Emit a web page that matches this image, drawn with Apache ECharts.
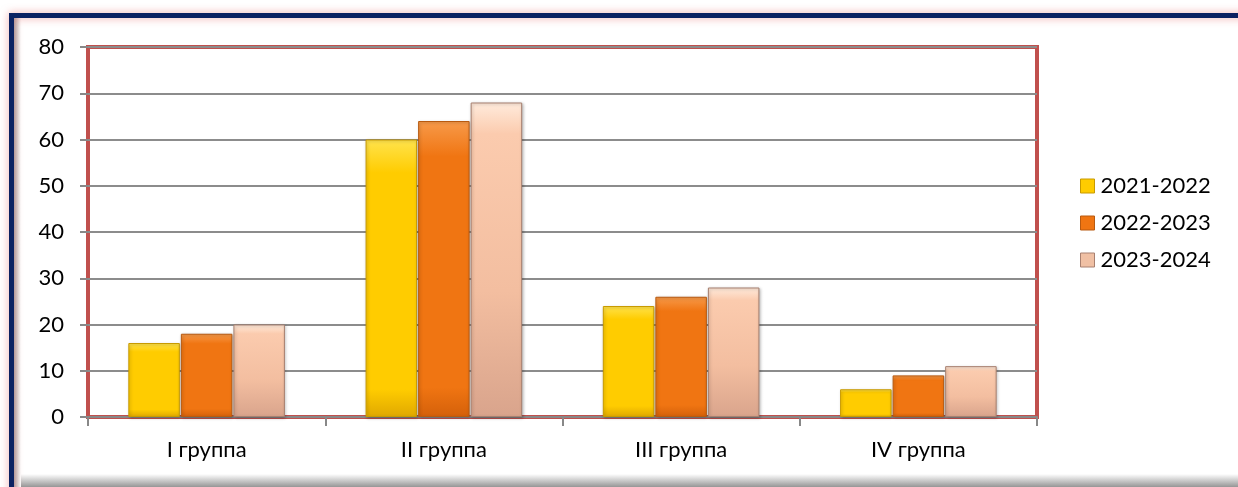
<!DOCTYPE html>
<html>
<head>
<meta charset="utf-8">
<script src="https://cdn.jsdelivr.net/npm/echarts@6/dist/echarts.min.js"></script>
<style>
	html, body { margin: 0; padding: 0; background: #fff; }
	#chart { width: 1238px; height: 487px; }
</style>
</head>
<body>
<div id="chart"></div>
<script>
// категории и значения по учебным годам
var categories = ['I группа', 'II группа', 'III группа', 'IV группа']
var seriesNames = ['2021-2022', '2022-2023', '2023-2024']
var values2122 = [16, 60, 24, 6]
var values2223 = [18, 64, 26, 9]
var values2324 = [20, 68, 28, 11]
var yTicks = [0, 10, 20, 30, 40, 50, 60, 70, 80]

var chart = echarts.init(document.getElementById('chart'))

function grad(top, mid, bottom) {
	return new echarts.graphic.LinearGradient(0, 0, 0, 1, [
		{ offset: 0, color: top },
		{ offset: 0.12, color: mid },
		{ offset: 0.9, color: mid },
		{ offset: 1, color: bottom }
	])
}

var styles = [
	{ color: grad('#FFE34D', '#FFCC00', '#E0A800'), border: '#C89A00', legend: '#FFCC00' },
	{ color: grad('#F79A4A', '#F07512', '#D4600A'), border: '#B85A10', legend: '#F07512' },
	{ color: new echarts.graphic.LinearGradient(0, 0, 0, 1, [
		{ offset: 0, color: '#FFEBDC' },
		{ offset: 0.1, color: '#FBCBAE' },
		{ offset: 0.6, color: '#F3BEA0' },
		{ offset: 1, color: '#D9A48C' }
	]), border: '#A88070', legend: '#F0C0A4' }
]
var allValues = [values2122, values2223, values2324]

var series = seriesNames.map(function (name, i) {
	return {
		name: name,
		type: 'bar',
		data: allValues[i],
		barGap: '2%',
		barCategoryGap: '34%',
		itemStyle: {
			color: styles[i].color,
			borderColor: styles[i].border,
			borderWidth: 1,
			shadowColor: 'rgba(0,0,0,0.25)',
			shadowBlur: 3,
			shadowOffsetX: 1,
			shadowOffsetY: 1
		}
	}
})

chart.setOption({
	backgroundColor: '#fff',
	animation: false,
	textStyle: { fontFamily: 'Lato', color: '#000' },
	graphic: [
		{ // внешняя рамка
			type: 'rect',
			z: -10,
			shape: { x: 11.5, y: 15.5, width: 1300, height: 520 },
			style: {
				fill: 'none',
				stroke: '#0B2262',
				lineWidth: 5,
				shadowColor: 'rgba(230,90,90,0.55)',
				shadowBlur: 8
			}
		},
		{
			type: 'rect',
			z: -11,
			shape: { x: 14, y: 474, width: 1230, height: 13 },
			style: {
				fill: new echarts.graphic.LinearGradient(0, 0, 0, 1, [
					{ offset: 0, color: 'rgba(255,255,255,1)' },
					{ offset: 1, color: 'rgba(150,150,150,1)' }
				])
			}
		},
		{
			type: 'rect',
			z: -11,
			shape: { x: 14, y: 18, width: 7, height: 470 },
			style: {
				fill: new echarts.graphic.LinearGradient(0, 0, 1, 0, [
					{ offset: 0, color: 'rgba(170,170,170,1)' },
					{ offset: 1, color: 'rgba(255,255,255,1)' }
				])
			}
		}
	],
	legend: {
		orient: 'vertical',
		left: 1075,
		top: 170,
		itemWidth: 14,
		itemHeight: 14,
		itemGap: 15,
		icon: 'rect',
		data: seriesNames.map(function (n, i) {
			return { name: n, itemStyle: { color: styles[i].legend, borderColor: styles[i].border, borderWidth: 1 } }
		}),
		textStyle: { fontSize: 22, color: '#000', fontFamily: 'Lato', padding: [0, 0, 0, 1] }
	},
	grid: {
		left: 88,
		right: 201,
		top: 47,
		bottom: 70,
		show: true,
		borderColor: '#C0504D',
		borderWidth: 4,
		backgroundColor: 'transparent'
	},
	xAxis: {
		type: 'category',
		data: categories,
		axisLine: { lineStyle: { color: '#888', width: 2 } },
		axisTick: { show: true, length: 9, lineStyle: { color: '#888', width: 2 } },
		axisLabel: { fontSize: 22, color: '#000', margin: 22 }
	},
	yAxis: {
		type: 'value',
		min: yTicks[0],
		max: yTicks[yTicks.length - 1],
		interval: 10,
		axisLine: { show: false },
		axisTick: { show: true, length: 8, lineStyle: { color: '#888', width: 2 } },
		axisLabel: { fontSize: 22, color: '#000', margin: 24 },
		splitLine: { lineStyle: { color: '#8C8C8C', width: 2 } }
	},
	series: series
})
</script>
</body>
</html>
